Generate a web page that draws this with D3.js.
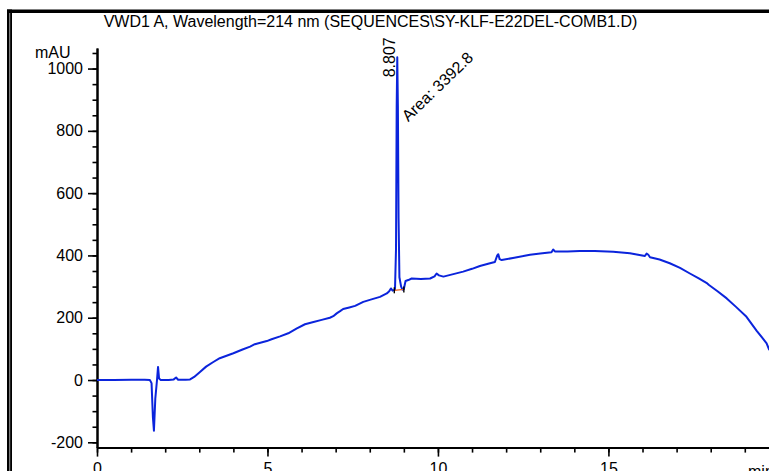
<!DOCTYPE html>
<html>
<head>
<meta charset="utf-8">
<script src="https://cdn.jsdelivr.net/npm/d3@7"></script>
<style>
  html, body { margin: 0; padding: 0; background: #fff; }
  svg { display: block; }
  text { font-family: "Liberation Sans", Arial, sans-serif; fill: #000; }
</style>
</head>
<body>
<svg id="chart" width="769" height="471"></svg>
<script>
// Chromatogram trace: retention time (min) and detector signal (mAU)
const times = [
  0, 0.5, 1.0, 1.4, 1.55, 1.60, 1.64, 1.67, 1.71, 1.76, 1.79, 1.82, 1.87,
  2.1, 2.25, 2.32, 2.38, 2.6, 2.73, 2.85, 3.02, 3.2, 3.4, 3.6, 3.8, 4.0,
  4.25, 4.49, 4.63, 4.98, 5.12, 5.37, 5.61, 5.85, 6.10, 6.35, 6.59, 6.83,
  6.93, 7.03, 7.13, 7.22, 7.40, 7.57, 7.81, 8.05, 8.30, 8.50, 8.57, 8.62,
  8.67, 8.74, 8.77, 8.79, 8.807, 8.825, 8.845, 8.87, 8.92, 8.96, 9.0, 9.05,
  9.13, 9.23, 9.5, 9.77, 9.90, 9.96, 10.03, 10.16, 10.45, 10.74, 11.0,
  11.23, 11.5, 11.67, 11.74, 11.77, 11.81, 11.87, 12.2, 12.70, 13.0, 13.33,
  13.38, 13.43, 13.8, 14.16, 14.6, 15.14, 15.63, 16.07, 16.12, 16.17, 16.22,
  16.5, 16.80, 17.10, 17.39, 17.65, 17.90, 17.95, 18.2, 18.47, 18.75, 19.05,
  19.35, 19.64, 19.72
];
const signal = [
  0, 0, 1, 1, 0, -10, -120, -163, -60, 0, 42, 5, 0,
  0, 2, 8, 1, 1, 2, 10, 26, 43, 57, 70, 78, 86,
  97, 107, 115, 125, 131, 140, 150, 165, 179, 186, 193, 200,
  205, 214, 221, 228, 233, 238, 251, 259, 267, 278, 285, 294,
  287, 290, 420, 880, 1036, 880, 520, 330, 300, 290, 292, 318,
  321, 326, 324, 326, 333, 342, 336, 332, 340, 348, 357,
  366, 374, 379, 400, 404, 388, 385, 392, 402, 406, 410,
  419, 413, 413, 414, 414, 412, 407, 398, 406, 402, 394,
  387, 375, 360, 342, 326, 310, 305, 285, 262, 234, 203,
  158, 118, 96
];

// Integrated peak: retention time, area, and its drawn baseline
const peakTime = 8.807;
const peakHeight = 1036;
const peakArea = "3392.8";
const baseStart = [8.72, 288];
const baseEnd = [9.0, 291];

// Axis ticks
const xMajorTicks = [0, 5, 10, 15];
const xMinorTicks = d3.range(0, 20, 1);
const yMajorTicks = [-200, 0, 200, 400, 600, 800, 1000];
const yMinorTicks = d3.range(-200, 1051, 50);

const titleText = "VWD1 A, Wavelength=214 nm (SEQUENCES\\SY-KLF-E22DEL-COMB1.D)";

const svg = d3.select("#chart");
const W = 769, H = 471;

const x = d3.scaleLinear().domain([0, 19.71]).range([97, 769]);
const y = d3.scaleLinear().domain([-217, 1066]).range([447.6, 48]);

// Frame: heavy top rule and doubled left rule
svg.append("rect").attr("x", 7).attr("y", 9.5).attr("width", W - 7).attr("height", 3.5).attr("fill", "#000");
svg.append("rect").attr("x", 7).attr("y", 9.5).attr("width", 5).attr("height", H - 9.5).attr("fill", "#000");
svg.append("rect").attr("x", 9.2).attr("y", 13).attr("width", 1).attr("height", H - 13).attr("fill", "#9a9a9a");

// Title
svg.append("text")
  .attr("x", 370.5).attr("y", 27)
  .attr("text-anchor", "middle")
  .style("font-size", "16px")
  .text(titleText);

// Axes
function styleAxis(g) {
  g.selectAll("path.domain").attr("stroke", "#000").attr("stroke-width", 2);
  g.selectAll(".tick line").attr("stroke", "#000").attr("stroke-width", 1.6);
  g.selectAll(".tick text").style("font-size", "16px").attr("fill", "#000")
    .style("font-family", "'Liberation Sans', Arial, sans-serif");
}

const yMinor = svg.append("g").attr("transform", `translate(${x(0)},0)`)
  .call(d3.axisLeft(y).tickValues(yMinorTicks).tickSize(4.5).tickSizeOuter(0).tickFormat(""));
styleAxis(yMinor);
const yMajor = svg.append("g").attr("transform", `translate(${x(0)},0)`)
  .call(d3.axisLeft(y).tickValues(yMajorTicks).tickSize(9).tickSizeOuter(0).tickPadding(5).tickFormat(d3.format("d")));
styleAxis(yMajor);
yMajor.selectAll(".tick text").text(d => d < 0 ? "-" + Math.abs(d) : String(d));

const xMinor = svg.append("g").attr("transform", `translate(0,${y(-217)})`)
  .call(d3.axisBottom(x).tickValues(xMinorTicks).tickSize(5).tickSizeOuter(0).tickFormat(""));
styleAxis(xMinor);
const xMajor = svg.append("g").attr("transform", `translate(0,${y(-217)})`)
  .call(d3.axisBottom(x).tickValues(xMajorTicks).tickSize(9).tickSizeOuter(0).tickPadding(6).tickFormat(d3.format("d")));
styleAxis(xMajor);

// Unit labels
svg.append("text").attr("x", 35).attr("y", 58).style("font-size", "16px").text("mAU");
svg.append("text").attr("x", 748).attr("y", 477).style("font-size", "16px").text("min");

// Signal trace
const line = d3.line().x(d => x(d[0])).y(d => y(d[1]));
const pts = times.map((t, i) => [t, signal[i]]);
svg.append("defs").append("clipPath").attr("id", "plotClip")
  .append("rect").attr("x", x(0)).attr("y", 0).attr("width", W - x(0)).attr("height", H);
svg.append("path")
  .datum(pts)
  .attr("clip-path", "url(#plotClip)")
  .attr("fill", "none")
  .attr("stroke", "#0b24dc")
  .attr("stroke-width", 2)
  .attr("stroke-linejoin", "round")
  .attr("d", line);

// Integration baseline with start/end markers
svg.append("line")
  .attr("x1", x(baseStart[0])).attr("y1", y(baseStart[1]))
  .attr("x2", x(baseEnd[0])).attr("y2", y(baseEnd[1]))
  .attr("stroke", "#e8641e").attr("stroke-width", 1.2);
[baseStart, baseEnd].forEach(p => {
  svg.append("line")
    .attr("x1", x(p[0])).attr("x2", x(p[0]))
    .attr("y1", y(p[1]) - 3).attr("y2", y(p[1]) + 3)
    .attr("stroke", "#000").attr("stroke-width", 1.4);
});

// Peak annotations
const px = x(peakTime), py = y(peakHeight);
svg.append("text")
  .attr("transform", `translate(${px - 2.3},${py + 20}) rotate(-90)`)
  .style("font-size", "16px")
  .text(peakTime.toFixed(3));
svg.append("text")
  .attr("transform", `translate(${px + 11},${py + 65}) rotate(-44)`)
  .style("font-size", "16px")
  .text("Area: " + peakArea);
</script>
</body>
</html>
